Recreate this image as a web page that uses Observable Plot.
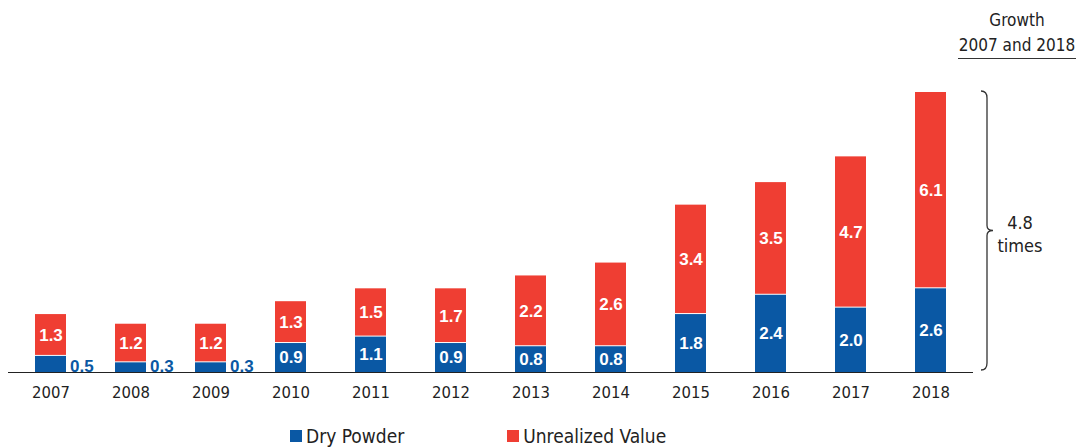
<!DOCTYPE html>
<html>
<head>
<meta charset="utf-8">
<script src="https://cdn.jsdelivr.net/npm/d3@7"></script>
<script src="https://cdn.jsdelivr.net/npm/@observablehq/plot@0.6"></script>
<style>
  html, body { margin: 0; padding: 0; background: #fff; }
  body { width: 1083px; height: 447px; position: relative; overflow: hidden;
         font-family: "DejaVu Sans Condensed", "Liberation Sans", sans-serif; color: #222; }
  #growth { position: absolute; left: 958px; width: 118px; top: 8px; display: flex; flex-direction: column;
            align-items: center; font-size: 17px; line-height: 25px; white-space: nowrap;
            border-bottom: 1.5px solid #333; }
  #legend { position: absolute; top: 425px; left: 290px; display: flex; align-items: center; font-size: 19px; }
  .item { display: flex; align-items: center; }
  .sw { width: 12px; height: 12px; margin-right: 4px; }
</style>
</head>
<body>
<div id="chart"></div>
<div id="growth"><span>Growth</span><span>2007 and 2018</span></div>
<div id="legend"></div>
<script>
const years = ["2007","2008","2009","2010","2011","2012","2013","2014","2015","2016","2017","2018"];
const dryPowder = [0.5,0.3,0.3,0.9,1.1,0.9,0.8,0.8,1.8,2.4,2.0,2.6];
const unrealized = [1.3,1.2,1.2,1.3,1.5,1.7,2.2,2.6,3.4,3.5,4.7,6.1];
const seriesNames = ["Dry Powder", "Unrealized Value"];
const colors = ["#0a58a4", "#ef3e33"];
const growthLabel = ["4.8", "times"];

const rows = years.map((yr, i) => ({
  year: yr, dp: dryPowder[i], uv: unrealized[i], total: dryPowder[i] + unrealized[i]
}));
const maxTotal = d3.max(rows, d => d.total);
const fontFam = '"DejaVu Sans Condensed", "Liberation Sans", sans-serif';
const boldFam = '"Liberation Sans", Arial, sans-serif';

function bracket(index, scales, values, dims) {
  const y = scales.y;
  const xr = dims.width - dims.marginRight;
  const x0 = xr + 8;
  const y1 = y(maxTotal) - 1, y0 = y(0) - 2, mid = (y1 + y0) / 2;
  const g = d3.create("svg:g");
  g.append("path")
    .attr("fill", "none").attr("stroke", "#333").attr("stroke-width", 1.3)
    .attr("d", `M${x0},${y1} Q${x0+6},${y1} ${x0+6},${y1+7} L${x0+6},${mid-5} Q${x0+6},${mid} ${x0+12},${mid} Q${x0+6},${mid} ${x0+6},${mid+5} L${x0+6},${y0-7} Q${x0+6},${y0} ${x0},${y0}`);
  const t = g.append("text").attr("text-anchor", "middle").attr("fill", "#222")
    .attr("font-size", 18).attr("font-family", fontFam);
  t.append("tspan").attr("x", x0 + 39).attr("y", mid - 2).text(growthLabel[0]);
  t.append("tspan").attr("x", x0 + 39).attr("y", mid + 21).text(growthLabel[1]);
  return g.node();
}

const chart = Plot.plot({
  width: 1083,
  height: 410,
  marginTop: 92,
  marginBottom: 38,
  marginLeft: 8,
  marginRight: 110,
  style: { fontFamily: fontFam, fontSize: "16.5px", color: "#222", background: "#fff" },
  x: { domain: years, paddingInner: 0.615, paddingOuter: 0.305, label: null, tickSize: 0, tickPadding: 14 },
  y: { domain: [0, maxTotal], axis: null },
  marks: [
    Plot.barY(rows, { x: "year", y1: 0, y2: "dp", fill: colors[0] }),
    Plot.barY(rows, { x: "year", y1: "dp", y2: "total", fill: colors[1], insetBottom: 1 }),
    Plot.ruleY([0], { stroke: "#222", strokeWidth: 1.2 }),
    Plot.text(rows.filter(d => d.dp >= 0.8), {
      x: "year", y: d => d.dp / 2, text: d => d.dp.toFixed(1),
      fill: "white", fontWeight: "bold", fontSize: 17, fontFamily: boldFam
    }),
    Plot.text(rows.filter(d => d.dp < 0.8), {
      x: "year", y: 0, text: d => d.dp.toFixed(1), lineAnchor: "bottom", dy: -1,
      fill: colors[0], fontWeight: "bold", fontSize: 17, fontFamily: boldFam, textAnchor: "start", dx: 19
    }),
    Plot.text(rows, {
      x: "year", y: d => d.dp + d.uv / 2, text: d => d.uv.toFixed(1),
      fill: "white", fontWeight: "bold", fontSize: 17, fontFamily: boldFam
    }),
    bracket
  ]
});
document.getElementById("chart").appendChild(chart);

const legend = d3.select("#legend");
seriesNames.forEach((name, i) => {
  const it = legend.append("div").attr("class", "item").style("margin-right", i === 0 ? "103px" : "0");
  it.append("div").attr("class", "sw").style("background", colors[i]);
  it.append("span").text(name);
});
</script>
</body>
</html>
